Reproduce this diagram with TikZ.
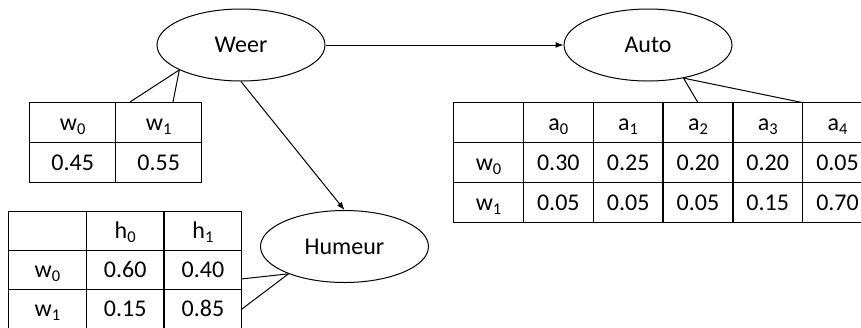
\documentclass[tikz,border=0pt]{standalone}
\usepackage{fontspec}
\setmainfont{Carlito}
\usetikzlibrary{positioning,arrows.meta,shapes.geometric,matrix}
% lowered index, as in w_0
\newcommand{\idx}[1]{\raisebox{-4pt}{\fontsize{16.5}{18}\selectfont#1}}
\tikzset{
  var/.style={ellipse,draw,line width=1pt,minimum width=168pt,minimum height=72pt,inner sep=0pt},
  arr/.style={-{Latex[length=8pt,width=6pt]},line width=1pt},
  link/.style={line width=1pt},
  % ---- conditional probability tables ----
  cpt/.style={matrix of nodes,inner sep=0pt,outer sep=0pt,
    column sep=-1.3pt,row sep=-1.3pt,
    nodes={draw,line width=1.3pt,anchor=center,inner sep=0pt,
      text height=17pt,text depth=2pt}},
}

\begin{document}
\begin{tikzpicture}[x=1pt,y=-1pt,font=\fontsize{24}{28}\selectfont]
  \useasboundingbox (0,0) rectangle (861,327);
  \clip (0,0) rectangle (861,327);

  % variables
  \node[var] (weer) at (241,45) {Weer};
  \node[var] (auto) at (648,45) {Auto};
  \node[var] (humeur) at (344.5,246.5) {Humeur};

  \draw[arr] (weer.east) -- (auto.west);
  \draw[arr] (weer.south) -- (humeur.north);

  % P(Weer)
  \matrix[cpt,nodes={minimum width=86pt,minimum height=40pt},anchor=north west] (wt) at (29,102) {
    w\idx{0} & w\idx{1} \\
    0.45 & 0.55 \\
  };

  % P(Humeur | Weer)
  \matrix[cpt,nodes in empty cells,nodes={minimum width=77.7pt,minimum height=39pt},anchor=north west] (ht) at (8,211) {
    & h\idx{0} & h\idx{1} \\
    w\idx{0} & 0.60 & 0.40 \\
    w\idx{1} & 0.15 & 0.85 \\
  };

  % P(Auto | Weer)
  \matrix[cpt,nodes in empty cells,nodes={minimum width=69.8pt,minimum height=40pt},anchor=north west] (at) at (453,102) {
    & a\idx{0} & a\idx{1} & a\idx{2} & a\idx{3} & a\idx{4} \\
    w\idx{0} & 0.30 & 0.25 & 0.20 & 0.20 & 0.05 \\
    w\idx{1} & 0.05 & 0.05 & 0.05 & 0.15 & 0.70 \\
  };

  % tables hooked to their variables
  \coordinate (wt-a) at (130,102);
  \coordinate (wt-b) at (173,102);
  \coordinate (ht-a) at (241,279);
  \draw[link] (weer.202) -- (wt-a);
  \draw[link] (weer.202) -- (wt-b);
  \draw[link] (auto.-43) -- (at-1-4.north);
  \draw[link] (auto.-43) -- (at-1-5.north east);
  \draw[link] (humeur.206) -- (ht-a);
  \draw[link] (humeur.206) -- (ht-3-3.east);
\end{tikzpicture}
\end{document}
